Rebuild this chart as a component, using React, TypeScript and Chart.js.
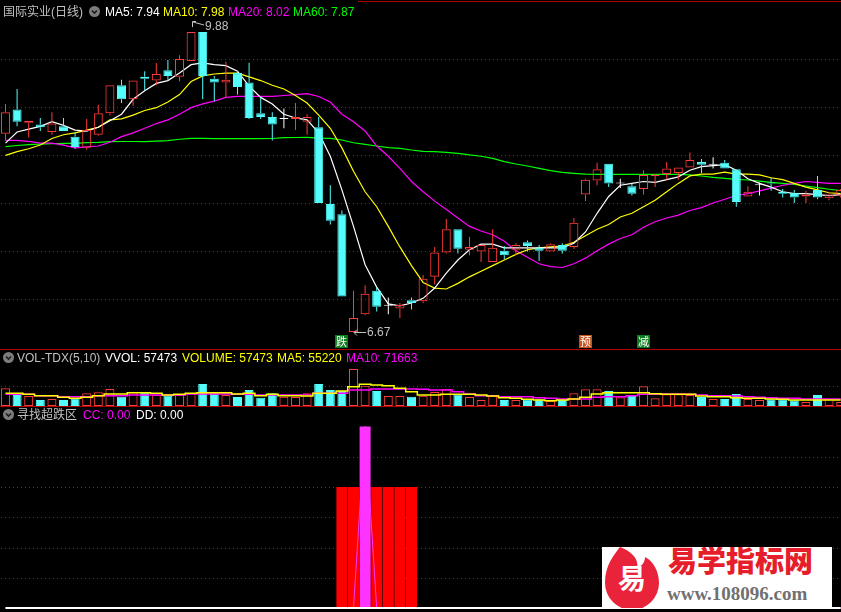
import React, { useEffect, useRef } from "react";
import { Chart, registerables } from "chart.js";

Chart.register(...registerables);

// ---------------- data ----------------
const STOCK_TITLE = "国际实业(日线)";
const MA_NAMES = ["MA5", "MA10", "MA20", "MA60"];
const MA_TITLE_VALUES = ["7.94", "7.98", "8.02", "7.87"];
const VOL_TITLE = "VOL-TDX(5,10)";
const VOL_TITLE_ITEMS = ["VVOL: 57473", "VOLUME: 57473", "MA5: 55220", "MA10: 71663"];
const IND_TITLE = "寻找超跌区";
const IND_TITLE_ITEMS = ["CC: 0.00", "DD: 0.00"];

const OPEN = [8.79, 9.05, 8.91, 8.89, 8.81, 8.87, 8.76, 8.64, 8.78, 9.01,
  9.31, 9.16, 9.40, 9.36, 9.47, 9.40, 9.57, 9.88, 9.38, 9.34,
  9.44, 9.34, 9.01, 8.97, 8.95, 8.95, 8.92, 8.86, 8.04, 7.93,
  6.67, 6.86, 7.11, 6.95, 6.92, 7.01, 7.00, 7.26, 7.52, 7.77,
  7.55, 7.53, 7.42, 7.54, 7.55, 7.63, 7.57, 7.53, 7.60, 7.58,
  8.14, 8.29, 8.47, 8.26, 8.23, 8.20, 8.34, 8.36, 8.37, 8.43,
  8.49, 8.46, 8.48, 8.41, 8.12, 8.24, 8.27, 8.17, 8.16, 8.12,
  8.19, 8.10, 8.13];
const HIGH = [9.11, 9.27, 8.93, 8.96, 9.02, 8.96, 8.81, 8.95, 9.10, 9.31,
  9.37, 9.36, 9.46, 9.55, 9.58, 9.63, 9.88, 9.88, 9.41, 9.56,
  9.46, 9.55, 9.18, 9.02, 9.06, 9.12, 9.00, 8.97, 8.24, 7.97,
  7.11, 7.17, 7.15, 7.04, 6.98, 7.04, 7.28, 7.58, 7.88, 7.77,
  7.69, 7.60, 7.77, 7.59, 7.62, 7.65, 7.60, 7.62, 7.62, 7.89,
  8.31, 8.48, 8.47, 8.31, 8.26, 8.40, 8.36, 8.49, 8.43, 8.59,
  8.52, 8.54, 8.51, 8.41, 8.23, 8.27, 8.32, 8.20, 8.19, 8.18,
  8.34, 8.17, 8.20];
const LOW = [8.72, 8.87, 8.75, 8.82, 8.78, 8.82, 8.63, 8.62, 8.77, 8.99,
  9.12, 9.09, 9.26, 9.31, 9.37, 9.35, 9.57, 9.16, 9.14, 9.18,
  9.21, 8.95, 8.95, 8.72, 8.85, 8.83, 8.78, 8.05, 7.82, 7.05,
  6.67, 6.85, 6.89, 6.86, 6.82, 6.91, 6.98, 7.18, 7.51, 7.51,
  7.49, 7.42, 7.42, 7.45, 7.49, 7.53, 7.43, 7.53, 7.51, 7.56,
  8.07, 8.24, 8.22, 8.21, 8.13, 8.14, 8.22, 8.30, 8.30, 8.43,
  8.37, 8.42, 8.42, 8.01, 8.12, 8.13, 8.18, 8.11, 8.05, 8.05,
  8.09, 8.08, 8.11];
const CLOSE = [9.02, 8.92, 8.93, 8.86, 8.90, 8.82, 8.65, 8.83, 9.01, 9.31,
  9.16, 9.36, 9.38, 9.43, 9.41, 9.59, 9.88, 9.41, 9.34, 9.37,
  9.29, 8.96, 8.97, 8.89, 8.95, 8.97, 8.97, 8.05, 7.86, 7.05,
  6.82, 7.08, 6.94, 6.95, 6.96, 6.98, 7.24, 7.52, 7.77, 7.56,
  7.58, 7.60, 7.57, 7.49, 7.60, 7.59, 7.54, 7.61, 7.54, 7.84,
  8.30, 8.41, 8.26, 8.26, 8.15, 8.35, 8.35, 8.42, 8.43, 8.51,
  8.46, 8.46, 8.42, 8.06, 8.17, 8.24, 8.26, 8.15, 8.11, 8.14,
  8.11, 8.14, 8.19];

const MA5 = [8.69, 8.81, 8.84, 8.87, 8.92, 8.88, 8.83, 8.82, 8.86, 8.93,
  9.00, 9.16, 9.25, 9.33, 9.36, 9.44, 9.53, 9.55, 9.53, 9.52,
  9.46, 9.30, 9.18, 9.11, 9.00, 8.96, 8.94, 8.80, 8.55, 8.19,
  7.80, 7.39, 7.15, 6.97, 6.95, 6.98, 7.03, 7.14, 7.30, 7.44,
  7.55, 7.61, 7.61, 7.57, 7.57, 7.57, 7.57, 7.57, 7.57, 7.62,
  7.74, 7.94, 8.12, 8.24, 8.26, 8.28, 8.27, 8.30, 8.33, 8.40,
  8.44, 8.45, 8.46, 8.40, 8.31, 8.26, 8.22, 8.17, 8.15, 8.15,
  8.14, 8.13, 8.14];
const MA10 = [8.56, 8.60, 8.63, 8.67, 8.74, 8.78, 8.80, 8.83, 8.86, 8.94,
  8.95, 8.99, 9.04, 9.07, 9.13, 9.21, 9.35, 9.41, 9.43, 9.44,
  9.44, 9.40, 9.36, 9.31, 9.27, 9.20, 9.12, 8.99, 8.85, 8.64,
  8.39, 8.17, 8.01, 7.80, 7.58, 7.38, 7.20, 7.14, 7.13, 7.19,
  7.26, 7.32, 7.38, 7.44, 7.50, 7.55, 7.57, 7.58, 7.59, 7.63,
  7.70, 7.77, 7.82, 7.90, 7.94, 8.01, 8.08, 8.17, 8.26, 8.34,
  8.36, 8.36, 8.38, 8.36, 8.36, 8.35, 8.32, 8.30, 8.26, 8.22,
  8.19, 8.16, 8.15];
const MA20 = [8.72, 8.72, 8.71, 8.69, 8.69, 8.67, 8.64, 8.65, 8.66, 8.70,
  8.76, 8.80, 8.85, 8.90, 8.94, 9.00, 9.07, 9.11, 9.14, 9.18,
  9.19, 9.19, 9.19, 9.19, 9.20, 9.21, 9.22, 9.19, 9.13, 9.00,
  8.92, 8.82, 8.66, 8.55, 8.42, 8.28, 8.17, 8.07, 7.98, 7.89,
  7.80, 7.75, 7.71, 7.64, 7.54, 7.47, 7.40, 7.37, 7.36, 7.40,
  7.46, 7.54, 7.61, 7.67, 7.71, 7.79, 7.85, 7.89, 7.92, 7.97,
  8.00, 8.05, 8.09, 8.13, 8.15, 8.18, 8.21, 8.24, 8.26, 8.28,
  8.27, 8.26, 8.26];
const MA60 = [8.654, 8.665, 8.674, 8.681, 8.684, 8.689, 8.689, 8.695, 8.699, 8.706,
  8.708, 8.708, 8.706, 8.713, 8.717, 8.732, 8.742, 8.742, 8.738, 8.738,
  8.738, 8.738, 8.738, 8.740, 8.749, 8.751, 8.753, 8.745, 8.742, 8.724,
  8.695, 8.678, 8.660, 8.642, 8.635, 8.617, 8.603, 8.599, 8.592, 8.582,
  8.564, 8.550, 8.528, 8.492, 8.467, 8.446, 8.421, 8.396, 8.378, 8.368,
  8.360, 8.357, 8.357, 8.357, 8.357, 8.357, 8.357, 8.357, 8.357, 8.350,
  8.339, 8.325, 8.314, 8.303, 8.296, 8.285, 8.271, 8.261, 8.250, 8.232,
  8.214, 8.197, 8.182];

const VOLUME = [177000, 110000, 100000, 60000, 70000, 60000, 77000, 127000, 137000, 170000,
  93000, 137000, 137000, 110000, 103000, 110000, 127000, 220000, 127000, 110000,
  90000, 160000, 83000, 127000, 93000, 90000, 127000, 220000, 160000, 150000,
  370000, 203000, 150000, 100000, 100000, 93000, 103000, 140000, 170000, 117000,
  90000, 60000, 103000, 60000, 60000, 67000, 67000, 50000, 60000, 127000,
  167000, 167000, 150000, 87000, 100000, 197000, 77000, 117000, 117000, 110000,
  90000, 70000, 70000, 120000, 70000, 60000, 67000, 67000, 57000, 40000,
  110000, 70000, 40000];
const VOL_MA5 = [127000, 127000, 117000, 103000, 103000, 87000, 77000, 87000, 103000, 120000,
  120000, 133000, 133000, 127000, 110000, 117000, 127000, 133000, 133000, 133000,
  120000, 127000, 103000, 117000, 103000, 103000, 100000, 127000, 127000, 150000,
  193000, 217000, 210000, 203000, 177000, 143000, 110000, 110000, 117000, 117000,
  117000, 110000, 100000, 83000, 77000, 67000, 60000, 53000, 60000, 70000,
  88000, 120000, 133000, 133000, 133000, 133000, 123000, 117000, 117000, 117000,
  100000, 93000, 93000, 83000, 77000, 77000, 70000, 67000, 60000, 60000,
  60000, 60000, 60000];
const VOL_MA10 = [117000, 117000, 117000, 103000, 103000, 93000, 93000, 93000, 103000, 103000,
  103000, 110000, 110000, 110000, 110000, 110000, 120000, 120000, 120000, 120000,
  117000, 117000, 110000, 110000, 110000, 110000, 110000, 127000, 127000, 127000,
  160000, 160000, 170000, 170000, 170000, 170000, 167000, 160000, 160000, 143000,
  120000, 103000, 103000, 93000, 93000, 93000, 83000, 77000, 70000, 70000,
  70000, 87000, 93000, 93000, 103000, 117000, 117000, 120000, 120000, 117000,
  110000, 103000, 103000, 100000, 93000, 87000, 83000, 77000, 77000, 70000,
  70000, 70000, 70000];

// indicator "寻找超跌区"
const SIGNAL = [0, 0, 0, 0, 0, 0, 0, 0, 0, 0,
  0, 0, 0, 0, 0, 0, 0, 0, 0, 0,
  0, 0, 0, 0, 0, 0, 0, 0, 0, 100,
  100, 100, 100, 100, 100, 100, 0, 0, 0, 0,
  0, 0, 0, 0, 0, 0, 0, 0, 0, 0,
  0, 0, 0, 0, 0, 0, 0, 0, 0, 0,
  0, 0, 0, 0, 0, 0, 0, 0, 0, 0,
  0, 0, 0];
const CC = [0, 0, 0, 0, 0, 0, 0, 0, 0, 0,
  0, 0, 0, 0, 0, 0, 0, 0, 0, 0,
  0, 0, 0, 0, 0, 0, 0, 0, 0, 0,
  0, 150, 0, 0, 0, 0, 0, 0, 0, 0,
  0, 0, 0, 0, 0, 0, 0, 0, 0, 0,
  0, 0, 0, 0, 0, 0, 0, 0, 0, 0,
  0, 0, 0, 0, 0, 0, 0, 0, 0, 0,
  0, 0, 0];
const DD = [0, 0, 0, 0, 0, 0, 0, 0, 0, 0,
  0, 0, 0, 0, 0, 0, 0, 0, 0, 0,
  0, 0, 0, 0, 0, 0, 0, 0, 0, 0,
  0, 0, 0, 0, 0, 0, 0, 0, 0, 0,
  0, 0, 0, 0, 0, 0, 0, 0, 0, 0,
  0, 0, 0, 0, 0, 0, 0, 0, 0, 0,
  0, 0, 0, 0, 0, 0, 0, 0, 0, 0,
  0, 0, 0];

const MARK_INDEX = [29, 50, 55];
const MARK_TEXT = ["跌", "预", "减"];

const PRICE_GRID = [9.591, 9.078, 8.564, 8.05, 7.537, 7.023];
const VOL_GRID = [200000];
const IND_GRID = [25, 50, 75, 100, 125];

// ---------------- layout / style ----------------
const W = 841;
const MAIN_H = 349;
const VOL_TOP = 349;
const VOL_H = 58;
const IND_TOP = 407;
const IND_H = 205;
const X_MIN = -0.474;
const X_MAX = 72.026;
const PRICE_MIN = 6.488;
const PRICE_MAX = 10.222;
const VOL_MIN = -10000;
const VOL_MAX = 570000;
const IND_MIN = -3.306;
const IND_MAX = 166.12;

const UP = "#ff3c3c";
const DOWN = "#54fcfc";
const FLAT = "#ffffff";
const YELLOW = "#ffff00";
const MAGENTA = "#ff00ff";
const GREEN = "#00ff00";
const WHITE = "#ffffff";
const GRID = "#9a1a1a";
const SEP = "#b00000";
const LABEL = "#c0c0c0";
const MARK_BG: Record<string, string> = { "跌": "#0b7d1e", "预": "#c4521c", "减": "#0b7d1e" };
const FONT = '"Liberation Sans", "Noto Sans CJK SC", Arial, sans-serif';

const IDX = OPEN.map((_, i) => i);
const candleColor = (i: number) => (CLOSE[i] > OPEN[i] ? UP : CLOSE[i] < OPEN[i] ? DOWN : FLAT);
const volColor = (i: number) => (CLOSE[i] < OPEN[i] ? DOWN : UP);

const barCommon = {
  type: "bar",
  grouped: false,
  borderSkipped: false,
  inflateAmount: 0,
  categoryPercentage: 1,
  barPercentage: 1,
};

function lineDs(values: number[], color: string, order: number, width = 1, stepped: any = false) {
  return {
    type: "line",
    data: IDX.map((i) => ({ x: i, y: values[i] })),
    borderColor: color,
    borderWidth: width,
    pointRadius: 0,
    tension: 0,
    fill: false,
    stepped,
    order,
  };
}

function dottedGrid(values: number[]) {
  return {
    id: "dottedGrid",
    beforeDatasetsDraw(chart: any) {
      const { ctx, chartArea, scales } = chart;
      ctx.save();
      ctx.strokeStyle = GRID;
      ctx.lineWidth = 1;
      ctx.setLineDash([1, 3]);
      values.forEach((v) => {
        const y = Math.round(scales.y.getPixelForValue(v)) + 0.5;
        ctx.beginPath();
        ctx.moveTo(chartArea.left + 1, y);
        ctx.lineTo(chartArea.right, y);
        ctx.stroke();
      });
      ctx.restore();
    },
  };
}

function baseOptions(yMin: number, yMax: number) {
  return {
    animation: false,
    responsive: false,
    maintainAspectRatio: false,
    devicePixelRatio: 1,
    events: [],
    layout: { padding: 0 },
    plugins: { legend: { display: false }, tooltip: { enabled: false } },
    scales: {
      x: { type: "linear", min: X_MIN, max: X_MAX, display: false, offset: false },
      y: { type: "linear", min: yMin, max: yMax, display: false },
    },
  };
}

const mainLabels = {
  id: "mainLabels",
  afterDatasetsDraw(chart: any) {
    const { ctx, chartArea, scales } = chart;
    const xs = scales.x;
    const ys = scales.y;
    ctx.save();
    ctx.font = '12px "Liberation Sans", Arial, sans-serif';
    ctx.textBaseline = "middle";
    ctx.fillStyle = LABEL;
    ctx.strokeStyle = LABEL;
    ctx.lineWidth = 1;
    // highest price marker
    const hiVal = Math.max(...HIGH);
    const hiIdx = HIGH.indexOf(hiVal);
    const hx = Math.round(xs.getPixelForValue(hiIdx));
    const hy = Math.round(ys.getPixelForValue(hiVal));
    ctx.beginPath();
    ctx.moveTo(hx + 1.5, hy - 5);
    ctx.lineTo(hx + 1.5, hy - 10.5);
    ctx.lineTo(hx + 5, hy - 10.5);
    ctx.moveTo(hx + 2, hy - 10);
    ctx.lineTo(hx + 13, hy - 7);
    ctx.stroke();
    ctx.fillText(hiVal.toFixed(2), hx + 14, hy - 5);
    // lowest price marker
    const loVal = Math.min(...LOW);
    const loIdx = LOW.indexOf(loVal);
    const lx = Math.round(xs.getPixelForValue(loIdx));
    const ly = Math.round(ys.getPixelForValue(loVal)) + 0.5;
    ctx.beginPath();
    ctx.moveTo(lx + 1, ly);
    ctx.lineTo(lx + 13, ly);
    ctx.moveTo(lx + 4, ly - 3);
    ctx.lineTo(lx + 1, ly);
    ctx.lineTo(lx + 4, ly + 3);
    ctx.stroke();
    ctx.fillText(loVal.toFixed(2), lx + 14, ly);
    // signal marks
    ctx.font = '11px "Noto Sans CJK SC", sans-serif';
    ctx.textAlign = "center";
    MARK_INDEX.forEach((idx, k) => {
      const cx = xs.getPixelForValue(idx);
      const left = Math.round(cx - 6.5);
      const top = chartArea.bottom - 14;
      ctx.fillStyle = MARK_BG[MARK_TEXT[k]];
      ctx.fillRect(left, top, 13, 13);
      ctx.fillStyle = "#ffffff";
      ctx.fillText(MARK_TEXT[k], left + 6.5, top + 7);
    });
    ctx.restore();
  },
};

function makeMain(): any {
  return {
    type: "bar",
    data: {
      datasets: [
        {
          ...barCommon,
          data: IDX.map((i) => ({ x: i, y: [OPEN[i], CLOSE[i]] })),
          backgroundColor: IDX.map((i) => (CLOSE[i] > OPEN[i] ? "rgba(0,0,0,0)" : candleColor(i))),
          borderColor: IDX.map(candleColor),
          borderWidth: 1,
          barThickness: 9,
          maxBarThickness: 9,
          minBarLength: 1,
          order: 1,
        },
        {
          ...barCommon,
          data: IDX.map((i) => ({ x: i, y: [Math.max(OPEN[i], CLOSE[i]), HIGH[i]] })),
          backgroundColor: IDX.map(candleColor),
          borderWidth: 0,
          barThickness: 1,
          maxBarThickness: 1,
          order: 2,
        },
        {
          ...barCommon,
          data: IDX.map((i) => ({ x: i, y: [LOW[i], Math.min(OPEN[i], CLOSE[i])] })),
          backgroundColor: IDX.map(candleColor),
          borderWidth: 0,
          barThickness: 1,
          maxBarThickness: 1,
          order: 2,
        },
        lineDs(MA5, WHITE, 5, 1.2),
        lineDs(MA10, YELLOW, 6, 1.2),
        lineDs(MA20, MAGENTA, 7, 1.2),
        lineDs(MA60, GREEN, 8, 1.2),
      ],
    },
    options: baseOptions(PRICE_MIN, PRICE_MAX),
    plugins: [dottedGrid(PRICE_GRID), mainLabels],
  };
}

function makeVol(): any {
  return {
    type: "bar",
    data: {
      datasets: [
        {
          ...barCommon,
          data: IDX.map((i) => ({ x: i, y: VOLUME[i] })),
          backgroundColor: IDX.map((i) => (CLOSE[i] < OPEN[i] ? DOWN : "rgba(0,0,0,0)")),
          borderColor: IDX.map(volColor),
          borderWidth: 1,
          barThickness: 9,
          maxBarThickness: 9,
          order: 3,
        },
        lineDs(VOL_MA10, MAGENTA, 2, 1.5, "middle"),
        lineDs(VOL_MA5, YELLOW, 1, 1.5, "middle"),
      ],
    },
    options: baseOptions(VOL_MIN, VOL_MAX),
    plugins: [dottedGrid(VOL_GRID)],
  };
}

function makeInd(): any {
  return {
    type: "bar",
    data: {
      datasets: [
        {
          ...barCommon,
          data: IDX.map((i) => ({ x: i, y: SIGNAL[i] })),
          backgroundColor: "#ff0000",
          borderWidth: 0,
          barThickness: 11,
          maxBarThickness: 11,
          order: 4,
        },
        {
          ...barCommon,
          data: IDX.map((i) => ({ x: i, y: CC[i] })),
          backgroundColor: "#ff33ff",
          borderWidth: 0,
          barThickness: 11,
          maxBarThickness: 11,
          order: 3,
        },
        lineDs(CC, "#ff33ff", 2, 1),
        lineDs(DD, WHITE, 1, 2),
      ],
    },
    options: baseOptions(IND_MIN, IND_MAX),
    plugins: [dottedGrid(IND_GRID)],
  };
}

function ChartCanvas({ top, height, make }: { top: number; height: number; make: () => any }) {
  const ref = useRef<HTMLCanvasElement | null>(null);
  useEffect(() => {
    if (!ref.current) return;
    const chart = new Chart(ref.current, make());
    return () => chart.destroy();
  }, [make]);
  return (
    <canvas
      ref={ref}
      width={W}
      height={height}
      style={{ position: "absolute", left: 0, top, width: W, height, display: "block" }}
    />
  );
}

function Txt({ x, y, color, children }: { x: number; y: number; color: string; children: React.ReactNode }) {
  return (
    <span
      style={{
        position: "absolute",
        left: x,
        top: y,
        color,
        fontSize: 12,
        lineHeight: "14px",
        fontFamily: FONT,
        whiteSpace: "nowrap",
      }}
    >
      {children}
    </span>
  );
}

function Icon({ x, y }: { x: number; y: number }) {
  return (
    <svg width={11} height={11} style={{ position: "absolute", left: x, top: y }}>
      <circle cx={5.5} cy={5.5} r={5.5} fill="#7c7c7c" />
      <path d="M3 4.5 L5.5 7 L8 4.5" stroke="#1c1c1c" strokeWidth={1.6} fill="none" />
    </svg>
  );
}

const MA_COLORS = [WHITE, YELLOW, MAGENTA, GREEN];
const MA_X = [105, 163, 228, 293];
const VOL_COLORS = [WHITE, YELLOW, YELLOW, MAGENTA];
const VOL_X = [105, 182, 277, 346];
const IND_COLORS = [MAGENTA, WHITE];
const IND_X = [83, 136];

export default function App() {
  return (
    <div
      style={{
        position: "absolute",
        left: 0,
        top: 0,
        width: W,
        height: 612,
        background: "#000",
        overflow: "hidden",
        fontFamily: FONT,
      }}
    >
      <ChartCanvas top={0} height={MAIN_H} make={makeMain} />
      <ChartCanvas top={VOL_TOP} height={VOL_H} make={makeVol} />
      <ChartCanvas top={IND_TOP} height={IND_H} make={makeInd} />

      <div style={{ position: "absolute", left: 358, top: 1, width: W - 358, height: 1, background: SEP }} />
      <div style={{ position: "absolute", left: 0, top: 349, width: W, height: 1, background: SEP }} />
      <div style={{ position: "absolute", left: 0, top: 406, width: W, height: 1, background: SEP }} />

      {/* main header */}
      <Txt x={3} y={5} color={LABEL}>{STOCK_TITLE}</Txt>
      <Icon x={89} y={6} />
      {MA_NAMES.map((n, k) => (
        <Txt key={n} x={MA_X[k]} y={5} color={MA_COLORS[k]}>{`${n}: ${MA_TITLE_VALUES[k]}`}</Txt>
      ))}

      {/* volume header */}
      <Icon x={3} y={352} />
      <Txt x={17} y={351} color={LABEL}>{VOL_TITLE}</Txt>
      {VOL_TITLE_ITEMS.map((t, k) => (
        <Txt key={t} x={VOL_X[k]} y={351} color={VOL_COLORS[k]}>{t}</Txt>
      ))}

      {/* indicator header */}
      <Icon x={3} y={409} />
      <Txt x={17} y={408} color={LABEL}>{IND_TITLE}</Txt>
      {IND_TITLE_ITEMS.map((t, k) => (
        <Txt key={t} x={IND_X[k]} y={408} color={IND_COLORS[k]}>{t}</Txt>
      ))}

      {/* watermark */}
      <div style={{ position: "absolute", left: 602, top: 547, width: 230, height: 61, background: "#fff", overflow: "hidden" }}>
        <svg width={60} height={61} style={{ position: "absolute", left: 0, top: 0 }}>
          <path
            d="M18 0 C12 8, 3 18, 3 36 A27 27 0 0 0 57 36 C57 24, 51 14, 43 10 C43 16, 39 20, 35 20 C37 12, 29 4, 18 0 Z"
            fill="#e8233a"
          />
        </svg>
        <span
          style={{
            position: "absolute",
            left: 16,
            top: 14,
            fontSize: 28,
            lineHeight: "32px",
            color: "#fff",
            fontWeight: 700,
            fontFamily: '"Noto Sans CJK SC", sans-serif',
          }}
        >
          易
        </span>
        <span
          style={{
            position: "absolute",
            left: 66,
            top: -2,
            fontSize: 29,
            lineHeight: "29px",
            color: "#e61e2b",
            fontWeight: 900,
            fontFamily: '"Noto Sans CJK SC", sans-serif',
            whiteSpace: "nowrap",
          }}
        >
          易学指标网
        </span>
        <span
          style={{
            position: "absolute",
            left: 65,
            top: 37,
            fontSize: 19,
            lineHeight: "19px",
            color: "#707070",
            fontWeight: 700,
            fontFamily: '"Liberation Serif", "DejaVu Serif", serif',
            whiteSpace: "nowrap",
          }}
        >
          www.108096.com
        </span>
      </div>
    </div>
  );
}
